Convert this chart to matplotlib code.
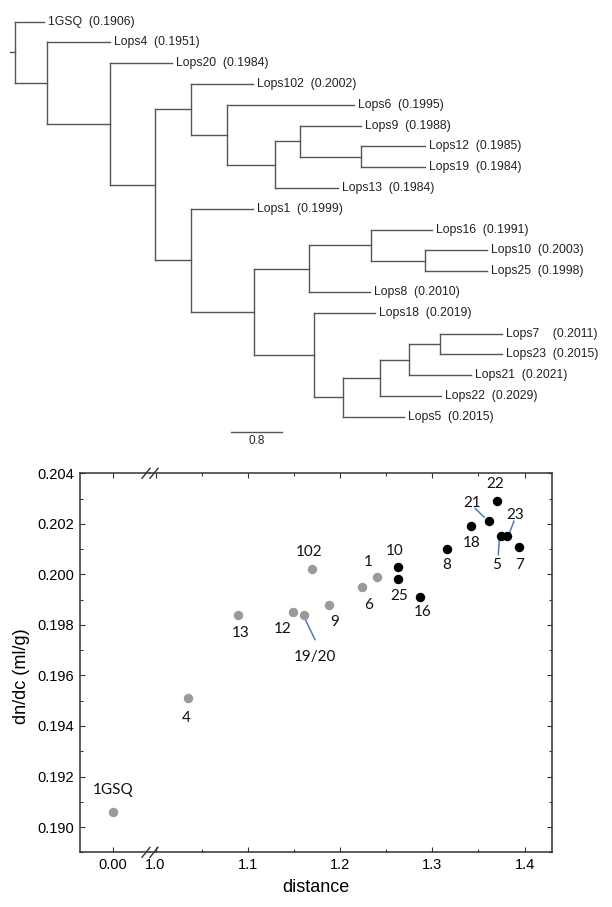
import matplotlib.pyplot as plt
import matplotlib.transforms as mtransforms
from matplotlib.lines import Line2D
from matplotlib.ticker import MultipleLocator, FixedLocator
import numpy as np

plt.rcParams['font.family'] = ['Liberation Sans', 'DejaVu Sans']

# ---- tree data (leaves top to bottom, dn/dc in brackets) ----
leaves = ['1GSQ', 'Lops4', 'Lops20', 'Lops102', 'Lops6', 'Lops9', 'Lops12', 'Lops19',
          'Lops13', 'Lops1', 'Lops16', 'Lops10', 'Lops25', 'Lops8', 'Lops18', 'Lops7',
          'Lops23', 'Lops21', 'Lops22', 'Lops5']
leaf_dndc = [0.1906, 0.1951, 0.1984, 0.2002, 0.1995, 0.1988, 0.1985, 0.1984,
             0.1984, 0.1999, 0.1991, 0.2003, 0.1998, 0.2010, 0.2019, 0.2011,
             0.2015, 0.2021, 0.2029, 0.2015]

edge_child = ['1GSQ', 'A', 'Lops4', 'B', 'Lops20', 'C', 'D', 'Lops102', 'E', 'Lops6',
              'F', 'G', 'Lops9', 'H', 'Lops12', 'Lops19', 'Lops13', 'I', 'Lops1', 'J',
              'K', 'M', 'Lops16', 'N', 'Lops10', 'Lops25', 'Lops8', 'L', 'Lops18', 'O',
              'P', 'Q', 'R', 'Lops7', 'Lops23', 'Lops21', 'Lops22', 'Lops5']
edge_parent = ['root', 'root', 'A', 'A', 'B', 'B', 'C', 'D', 'D', 'E',
               'E', 'F', 'G', 'G', 'H', 'H', 'F', 'C', 'I', 'I',
               'J', 'K', 'M', 'M', 'N', 'N', 'K', 'J', 'L', 'L',
               'O', 'P', 'Q', 'R', 'R', 'Q', 'P', 'O']
edge_len = [0.46, 0.50, 1.00, 1.00, 0.97, 0.71, 0.56, 0.99, 0.57, 2.00,
            0.76, 0.39, 0.97, 0.96, 1.01, 1.01, 1.00, 0.56, 0.99, 1.00,
            0.87, 0.98, 0.96, 0.84, 0.98, 0.98, 0.96, 0.95, 0.96, 0.45,
            0.58, 0.46, 0.49, 0.98, 0.98, 0.98, 0.97, 0.97]
scale_bar = 0.8

# ---- scatter data ----
pt_label = ['1GSQ', '4', '13', '12', '19/20', '102', '9', '6', '1',
            '10', '25', '16', '8', '18', '21', '22', '5', '23', '7']
pt_distance = [0.000, 1.035, 1.089, 1.149, 1.161, 1.170, 1.188, 1.224, 1.240,
               1.263, 1.263, 1.287, 1.316, 1.342, 1.361, 1.370, 1.374, 1.381, 1.394]
pt_dndc = [0.1906, 0.1951, 0.1984, 0.1985, 0.1984, 0.2002, 0.1988, 0.1995, 0.1999,
           0.2003, 0.1998, 0.1991, 0.2010, 0.2019, 0.2021, 0.2029, 0.2015, 0.2015, 0.2011]
pt_lower_clade = [False] * 9 + [True] * 10

W, H = 612, 907
fig = plt.figure(figsize=(W / 100, H / 100), dpi=100)


def px_axes(x0, y0, x1, y1):
    return fig.add_axes([x0 / W, 1 - y1 / H, (x1 - x0) / W, (y1 - y0) / H])


# ================= tree =================
children, length = {}, {}
for c, p, l in zip(edge_child, edge_parent, edge_len):
    children.setdefault(p, []).append(c)
    length[c] = l

xpos = {'root': 0.0}


def set_x(n):
    for c in children.get(n, []):
        xpos[c] = xpos[n] + length[c]
        set_x(c)


set_x('root')

ypos = {name: i for i, name in enumerate(leaves)}


def set_y(n):
    if n not in ypos:
        ypos[n] = np.mean([set_y(c) for c in children[n]])
    return ypos[n]


set_y('root')

unit = 63.4   # px per tree unit
step = 20.79  # px per leaf
tx = px_axes(0, 0, W, 452)
tx.set_xlim(-15 / unit, (W - 15) / unit)
tx.set_ylim((452 - 21.7) / step, -21.7 / step)
tx.axis('off')

line_kw = dict(color='#555555', lw=1.0, solid_capstyle='projecting')
for c, p in zip(edge_child, edge_parent):
    tx.plot([xpos[p], xpos[c]], [ypos[c], ypos[c]], **line_kw)
for n, ch in children.items():
    ys = [ypos[c] for c in ch]
    tx.plot([xpos[n], xpos[n]], [min(ys), max(ys)], **line_kw)
tx.plot([-5 / unit, 0], [ypos['root']] * 2, **line_kw)

for name, v in zip(leaves, leaf_dndc):
    gap = '    ' if name == 'Lops7' else '  '
    tx.annotate(f'{name}{gap}({v:.4f})', (xpos[name], ypos[name]), xytext=(4, 0),
                textcoords='offset pixels', va='center', ha='left',
                fontsize=8.8, color='#222222')

sb_x, sb_y = 3.41, 19.72
tx.plot([sb_x, sb_x + scale_bar], [sb_y, sb_y], **line_kw)
tx.annotate(f'{scale_bar}', (sb_x + scale_bar / 2, sb_y), xytext=(0, -9.5),
            textcoords='offset pixels', ha='center', va='center',
            fontsize=8.5, color='#222222')

# ================= scatter with broken x axis =================
top, bot = 473.3, 852.3
ax0 = px_axes(80, top, 150, bot)
ax1 = px_axes(150, top, 551.7, bot)

spine_c = '#333333'
for ax in (ax0, ax1):
    ax.set_ylim(0.189, 0.204)
    for s in ax.spines.values():
        s.set_color(spine_c)
        s.set_linewidth(1.1)
    ax.tick_params(which='both', direction='in', colors=spine_c, labelcolor='black',
                   labelsize=10.5, width=0.8)
    ax.tick_params(which='major', length=3.5, pad=4)
    ax.tick_params(which='minor', length=2)

ax0.set_xlim(-0.0358, 0.0401)
ax0.xaxis.set_major_locator(FixedLocator([0.0]))
ax0.set_xticklabels(['0.00'])
ax0.yaxis.set_major_locator(MultipleLocator(0.002))
ax0.yaxis.set_minor_locator(MultipleLocator(0.001))
ax0.yaxis.set_major_formatter(lambda v, p: f'{v:.3f}')
ax0.spines['right'].set_visible(False)
ax0.tick_params(which='both', top=True, right=False)

ax1.set_xlim(0.994, 1.4294)
ax1.xaxis.set_major_locator(FixedLocator([1.0, 1.1, 1.2, 1.3, 1.4]))
ax1.xaxis.set_minor_locator(FixedLocator([1.05, 1.15, 1.25, 1.35]))
ax1.xaxis.set_major_formatter(lambda v, p: f'{v:.1f}')
ax1.yaxis.set_major_locator(MultipleLocator(0.002))
ax1.yaxis.set_minor_locator(MultipleLocator(0.001))
ax1.spines['left'].set_visible(False)
ax1.tick_params(which='both', top=True, left=False, right=True, labelleft=False)

label_off = {'1GSQ': (0, 22), '4': (-2, -20), '13': (3, -18), '12': (-10, -17),
             '19/20': (11, -42), '102': (-3, 17), '9': (6, -17), '6': (6, -18),
             '1': (-9, 15), '10': (-4, 16), '25': (1, -16.5), '16': (2, -15),
             '8': (0, -16), '18': (1, -17), '21': (-16, 18.5), '22': (-2, 17),
             '5': (-4, -28.5), '23': (8.5, 21.5), '7': (1, -18.5)}
leaders = {'19/20': ((0, -2), (11, -25)), '21': ((-4.3, 4), (-13.6, 13)),
           '23': ((2.7, 4.2), (7, 15.5)), '5': ((-1, 0.5), (-2.3, -18.5))}

for lab, d, v, lower in zip(pt_label, pt_distance, pt_dndc, pt_lower_clade):
    ax = ax0 if d < 0.5 else ax1
    ax.plot(d, v, 'o', ms=6.8, mew=0, color='black' if lower else '#9a9a9a',
            zorder=3, clip_on=False)
    ax.annotate(lab, (d, v), xytext=label_off[lab], textcoords='offset pixels',
                ha='center', va='center', fontsize=11, family=['Lato', 'DejaVu Sans'],
                color='#111111')
    if lab in leaders:
        s, e = leaders[lab]
        start = mtransforms.offset_copy(ax.transData, fig=fig, x=s[0], y=s[1], units='dots')
        ax.annotate('', (d, v), xycoords=start, xytext=(e[0] - s[0], e[1] - s[1]),
                    textcoords='offset pixels',
                    arrowprops=dict(arrowstyle='-', color='#4a7ebb', lw=1.1,
                                    shrinkA=0, shrinkB=0), zorder=2)

# axis break marks
for yb in (top, bot):
    for xb in (146, 154):
        fig.add_artist(Line2D([(xb - 4) / W, (xb + 4) / W],
                              [1 - (yb + 5) / H, 1 - (yb - 5) / H],
                              color=spine_c, lw=1.0))

fig.text(315.9 / W, 1 - 888 / H, 'distance', ha='center', va='center', fontsize=13)
fig.text(22 / W, 1 - 676 / H, 'dn/dc (ml/g)', ha='center', va='center',
         rotation=90, fontsize=13)

fig.savefig('out.png', dpi=100)
